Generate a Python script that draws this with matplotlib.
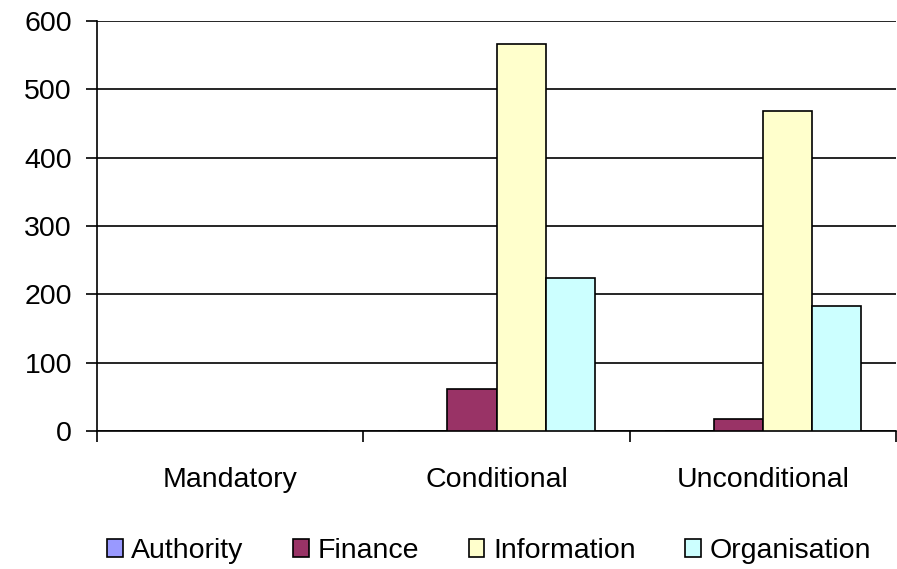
import matplotlib
matplotlib.use("Agg")
import matplotlib.pyplot as plt
import numpy as np

categories = ["Mandatory", "Conditional", "Unconditional"]
series_names = ["Authority", "Finance", "Information", "Organisation"]
authority = [0, 0, 0]
finance = [0, 61, 17]
information = [0, 566, 469]
organisation = [0, 224, 183]
colors = ["#9999FF", "#993366", "#FFFFCC", "#CCFFFF"]

plt.rcParams["font.family"] = ["Liberation Sans", "DejaVu Sans"]

fig = plt.figure(figsize=(8.97, 5.69), dpi=100)
ax = fig.add_axes([97 / 897, 1 - 431 / 569, 799 / 897, 410 / 569])

x = np.arange(len(categories))
w = 0.184
values = [authority, finance, information, organisation]
for i, (name, vals, c) in enumerate(zip(series_names, values, colors)):
    ax.bar(x + (i - 1.5) * w, vals, w, color=c, edgecolor="black",
           linewidth=1.2, label=name, zorder=3)

ax.set_xlim(-0.5, 2.5)
ax.set_ylim(0, 600)
ax.set_yticks(range(0, 601, 100))
ax.yaxis.grid(True, color="black", linewidth=1.2, zorder=0)
ax.set_axisbelow(True)

ax.set_xticks(x)
ax.set_xticklabels(categories)
ax.set_xticks([-0.5, 0.5, 1.5, 2.5], minor=True)
ax.tick_params(axis="x", which="major", length=0, pad=26, labelsize=20.5)
ax.tick_params(axis="x", which="minor", length=8, width=1.2, direction="out")
ax.tick_params(axis="y", length=8, width=1.2, pad=10, labelsize=20.5)

for s in ["top", "right"]:
    ax.spines[s].set_visible(False)
for s in ["left", "bottom"]:
    ax.spines[s].set_linewidth(1.2)

fig.legend(loc="center", bbox_to_anchor=(489 / 897, 1 - 551 / 569), ncol=4,
           frameon=False, fontsize=20.5, handlelength=0.55, handleheight=0.55,
           handletextpad=0.3, columnspacing=1.75)

fig.savefig("out.png", dpi=100)
